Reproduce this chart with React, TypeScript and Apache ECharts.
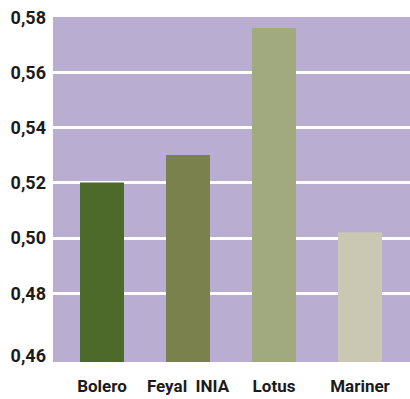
import React, { useEffect, useRef } from "react";
import * as echarts from "echarts";

const categories = ["Bolero", "Feyal  INIA", "Lotus", "Mariner"];
const values = [0.52, 0.53, 0.576, 0.502];
const barColors = ["#4e6a2b", "#7a814c", "#a1a97f", "#cac8b2"];
const gridValues = [0.48, 0.5, 0.52, 0.54, 0.56];
const labelValues = [0.4575, 0.48, 0.5, 0.52, 0.54, 0.56, 0.58];
const yMin = 0.455;
const yMax = 0.58;

const FONT = "Roboto, 'Liberation Sans Narrow', sans-serif";

export default function App() {
  const ref = useRef<HTMLDivElement>(null);
  useEffect(() => {
    document.body.style.margin = "0";
    const chart = echarts.init(ref.current!, null, { renderer: "svg" });
    chart.setOption({
      animation: false,
      grid: [
        {
          left: 53, right: 0, top: 17, bottom: 37,
          show: true, backgroundColor: "#b9aed1", borderWidth: 0,
        },
        { left: 59, right: 7, top: 17, bottom: 37 },
      ],
      xAxis: [
        { gridIndex: 0, type: "value", show: false, min: 0, max: 1 },
        {
          gridIndex: 1, type: "category", data: categories,
          axisLine: { show: false }, axisTick: { show: false },
          axisLabel: {
            interval: 0,
            color: "#1b1b1b", fontFamily: FONT, fontWeight: "bold",
            fontSize: 17, margin: 15,
          },
        },
      ],
      yAxis: [
        {
          gridIndex: 0, type: "value", min: yMin, max: yMax,
          axisLine: { show: false },
          axisTick: { show: false, customValues: gridValues },
          splitLine: { show: true, lineStyle: { color: "#ffffff", width: 3 } },
          axisLabel: {
            customValues: labelValues,
            formatter: (v: number) => v.toFixed(2).replace(".", ","),
            color: "#1b1b1b", fontFamily: FONT, fontWeight: "bold",
            fontSize: 18, margin: 7,
          },
        },
        { gridIndex: 1, type: "value", min: yMin, max: yMax, show: false, splitLine: { show: false } },
      ],
      series: [
        {
          type: "bar", xAxisIndex: 1, yAxisIndex: 1,
          barWidth: 44,
          data: values.map((v, i) => ({ value: v, itemStyle: { color: barColors[i] } })),
        },
      ],
    });
    return () => chart.dispose();
  }, []);
  return <div ref={ref} style={{ width: 410, height: 399 }} />;
}
